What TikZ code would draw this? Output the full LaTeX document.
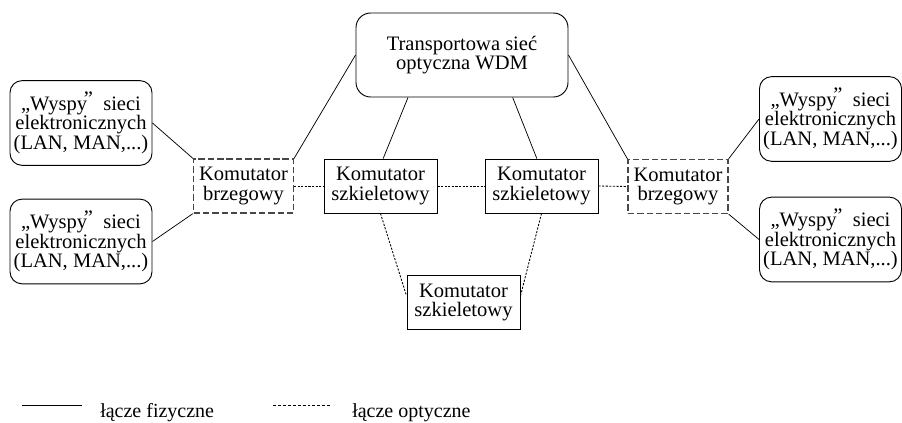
\documentclass[tikz,border=0pt]{standalone}
\usepackage{fontspec}
\setmainfont{Liberation Serif}
\begin{document}
\begin{tikzpicture}[x=0.75pt,y=-0.75pt,
  txt/.style={font=\fontsize{15.4pt}{14.8pt}\selectfont, align=center, inner sep=0pt},
  island/.style={txt, draw, rounded corners=9pt, line width=0.7pt, minimum width=106.5pt, minimum height=63.5pt},
  wdmbox/.style={txt, draw, rounded corners=11pt, line width=0.7pt, minimum width=159pt, minimum height=63pt},
  backbone/.style={txt, draw, line width=0.7pt, minimum width=84.75pt, minimum height=40.5pt},
  edgesw/.style={txt, draw=black!72, dash pattern=on 4.8pt off 2.2pt, line width=0.85pt, minimum width=75pt, minimum height=40.5pt},
  phys/.style={line width=0.55pt},
  opt/.style={line width=0.65pt, dash pattern=on 1.6pt off 1.1pt},
  lbl/.style={font=\fontsize{15pt}{15pt}\selectfont, inner sep=0pt, anchor=base west}]
\useasboundingbox (0,0) rectangle (902,423);
\newcommand{\wyspy}{„Wyspy\kern-2.4pt\raisebox{0.45ex}{”}\ \ sieci\\elektronicznych\\(LAN, MAN,...)}
% nodes
\node[island] (iL1) at (81,123) {\wyspy};
\node[island] (iL2) at (81,241.5) {\wyspy};
\node[edgesw] (eL) at (243.5,186) {Komutator\\brzegowy};
\node[wdmbox] (wdm) at (462,55) {Transportowa sieć\\optyczna WDM};
\node[backbone] (bL) at (380.5,186) {Komutator\\szkieletowy};
\node[backbone] (bR) at (541.5,186) {Komutator\\szkieletowy};
\node[backbone] (bB) at (463.5,302.5) {Komutator\\szkieletowy};
\node[edgesw] (eR) at (678,186.5) {Komutator\\brzegowy};
\node[island] (iR1) at (830.5,119) {\wyspy};
\node[island] (iR2) at (830.5,239.5) {\wyspy};
% physical links
\draw[phys] (iL1.east) -- (eL.north west);
\draw[phys] (iL2.east) -- (eL.south west);
\draw[phys] (wdm.west) -- (eL.north east);
\draw[phys] ([xshift=-40.5pt]wdm.south) -- ([xshift=2pt]bL.north);
\draw[phys] ([xshift=38pt]wdm.south) -- ([xshift=-3.5pt]bR.north);
\draw[phys] (wdm.east) -- (eR.north west);
\draw[phys] (eR.north east) -- (iR1.west);
\draw[phys] (eR.south east) -- (iR2.west);
% optical links
\draw[opt] (eL.east) -- (bL.west);
\draw[opt] (bL.east) -- (bR.west);
\draw[opt] (bR.east) -- (eR.west);
\draw[opt] (bL.south) -- ([yshift=5pt]bB.west);
\draw[opt] (bR.south) -- ([yshift=5pt]bB.east);
% legend
\coordinate (l1a) at (22,405);
\coordinate (l1b) at (82,405);
\coordinate (l2a) at (273,405);
\coordinate (l2b) at (330,405);
\draw[phys, line width=0.65pt] (l1a) -- (l1b);
\draw[opt, dash pattern=on 2.2pt off 1.5pt] (l2a) -- (l2b);
\node[lbl] (t1) at (100,417) {łącze fizyczne};
\node[lbl] (t2) at (352,417) {łącze optyczne};
\end{tikzpicture}
\end{document}
